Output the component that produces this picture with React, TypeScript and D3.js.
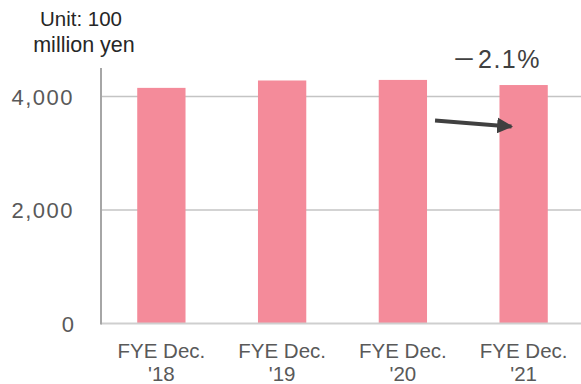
import React from "react";
import * as d3 from "d3";

const categories = ["FYE Dec.\n'18", "FYE Dec.\n'19", "FYE Dec.\n'20", "FYE Dec.\n'21"];
const values = [4150, 4280, 4290, 4200];
const yTicks = [0, 2000, 4000];
const changeSign = "\uFF0D";
const changeValue = "2.1%";
const unitLines = ["Unit: 100", "million yen"];

const W = 581;
const H = 384;

export default function App() {
  const x = d3.scaleBand<string>().domain(categories).range([101, 584]).paddingInner(0.6).paddingOuter(0.3);
  const y = d3.scaleLinear().domain([0, 4500]).range([323.5, 68]);
  const fmt = d3.format(",");
  const font = "'Liberation Sans', Arial, sans-serif";
  const c3 = x(categories[2])! + x.bandwidth();
  const c4 = x(categories[3])!;
  return (
    <svg width={W} height={H} style={{ position: "absolute", left: 0, top: 0, background: "#fff" }} fontFamily={font}>
      <defs>
        <marker id="ah" viewBox="0 0 10 10" refX="9" refY="5" markerWidth="4" markerHeight="4" orient="auto">
          <path d="M0,0 L10,5 L0,10 z" fill="#404040" />
        </marker>
      </defs>
      {yTicks.filter(t => t > 0).map(t => (
        <line key={t} x1={101} x2={W} y1={y(t)} y2={y(t)} stroke="#c4c4c4" strokeWidth={1.5} />
      ))}
      {categories.map((c, i) => (
        <rect key={c} x={x(c)} y={y(values[i])} width={x.bandwidth()} height={y(0) - y(values[i])} fill="#F48B9A" />
      ))}
      <line x1={101} x2={W} y1={y(0)} y2={y(0)} stroke="#cfcfcf" strokeWidth={2} />
      <line x1={101} x2={101} y1={68} y2={y(0) + 1} stroke="#a6a6a6" strokeWidth={2} />
      {yTicks.map(t => (
        <text key={t} x={74} y={y(t) + 8.5} textAnchor="end" fontSize={22} fill="#595959" letterSpacing={t > 0 ? 1.5 : 0}>
          {fmt(t)}
        </text>
      ))}
      {categories.map(c => {
        const cx = x(c)! + x.bandwidth() / 2;
        const parts = c.split("\n");
        return (
          <g key={c}>
            <text x={cx} y={357.5} textAnchor="middle" fontSize={20.5} fill="#595959">{parts[0]}</text>
            <text x={cx} y={381} textAnchor="middle" fontSize={20.5} fill="#595959">{parts[1]}</text>
          </g>
        );
      })}
      <text x={81} y={25.7} textAnchor="middle" fontSize={20.5} fill="#262626">{unitLines[0]}</text>
      <text x={84} y={51.5} textAnchor="middle" fontSize={21.5} fill="#262626">{unitLines[1]}</text>
      <text x={452} y={68} fontSize={25} fill="#404040">
        <tspan fontFamily="'Noto Sans CJK JP', sans-serif" fontSize={24}>{changeSign}</tspan>
        <tspan x={478} letterSpacing={1.5}>{changeValue}</tspan>
      </text>
      <line x1={c3 + 8} x2={c4 + 12} y1={120.5} y2={126.5} stroke="#404040" strokeWidth={4} markerEnd="url(#ah)" />
    </svg>
  );
}
